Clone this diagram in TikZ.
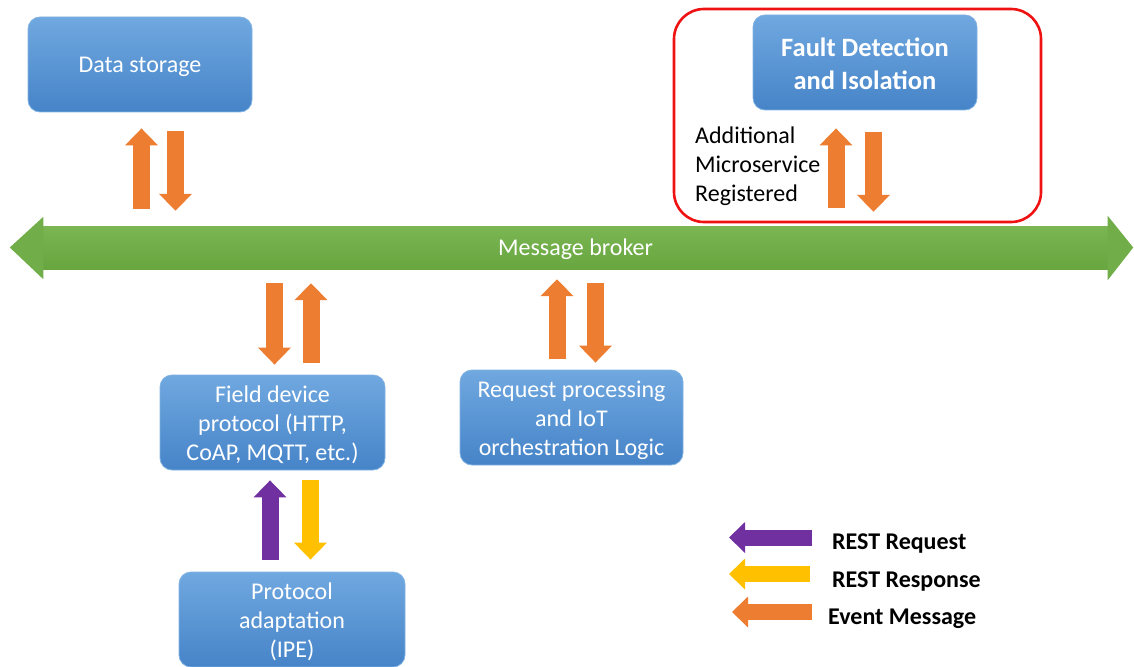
\documentclass[tikz,border=0pt]{standalone}
\usepackage{fontspec}
\setmainfont{Carlito}
\usetikzlibrary{arrows.meta,calc}

\definecolor{boxtop}{RGB}{112,168,224}
\definecolor{boxbot}{RGB}{70,132,200}
\definecolor{boxedge}{RGB}{128,178,226}
\definecolor{brokertop}{RGB}{122,182,82}
\definecolor{brokerbot}{RGB}{104,166,64}
\definecolor{evtorange}{RGB}{237,125,49}
\definecolor{reqpurple}{RGB}{112,48,160}
\definecolor{respyellow}{RGB}{255,192,0}
\definecolor{framered}{RGB}{238,18,18}

\begin{document}
\begin{tikzpicture}[x=1pt,y=-1pt,
  box/.style={rounded corners=12pt, top color=boxtop, bottom color=boxbot,
    draw=boxedge, line width=0.8pt, minimum height=95pt, inner sep=0pt},
  boxtxt/.style={text=white, align=center, inner sep=0pt, yshift=-2.5pt,
    font=\fontsize{24}{29}\selectfont},
  flow/.style={line width=17pt, -{Triangle[width=32pt,length=17pt]}},
  evt/.style={flow, draw=evtorange},
  req/.style={flow, draw=reqpurple},
  resp/.style={flow, draw=respyellow},
  legarrow/.style={line width=16pt, -{Triangle[width=30pt,length=16pt]}},
  legtxt/.style={anchor=west, inner sep=0pt, font=\fontsize{24}{29}\selectfont\bfseries}
]
\useasboundingbox (0,0) rectangle (1134,666);

% message broker bar with two heads
\node[top color=brokertop, bottom color=brokerbot, minimum width=1065pt,
  minimum height=43pt, inner sep=0pt,
  label={[boxtxt, yshift=0.5pt]center:Message broker}] (broker) at (575.5,247.5) {};
\fill[brokertop!50!brokerbot] ($(broker.north west)+(0.5,-9)$) -- ($(broker.west)+(-33,0)$)
  -- ($(broker.south west)+(0.5,10)$) -- cycle;
\fill[brokertop!50!brokerbot] ($(broker.north east)+(-0.5,-10)$) -- ($(broker.east)+(25,0)$)
  -- ($(broker.south east)+(-0.5,11)$) -- cycle;

% services
\node[box, minimum width=224pt, label={[boxtxt]center:Data storage}] (ds) at (140,64.5) {};
\node[box, minimum width=224pt,
  label={[boxtxt, yshift=1.5pt, font=\fontsize{26.5}{33}\selectfont\bfseries]center:{Fault Detection\\and Isolation}}]
  (fdi) at (865,62.5) {};
\node[box, minimum width=225pt,
  label={[boxtxt]center:{Field device\\protocol (HTTP,\\CoAP, MQTT, etc.)}}] (fd) at (272.5,422.5) {};
\node[box, minimum width=223pt,
  label={[boxtxt]center:{Request processing\\and IoT\\orchestration Logic}}] (rp) at (571.5,417.5) {};
\node[box, minimum width=226pt,
  label={[boxtxt]center:{Protocol\\adaptation\\(IPE)}}] (pa) at (292,619.5) {};

% newly registered microservice group
\node[draw=framered, line width=2.6pt, rounded corners=30pt,
  minimum width=367pt, minimum height=213pt] (grp) at (857.5,115.5) {};
\node[anchor=west, inner sep=0pt, align=left, font=\fontsize{24}{29}\selectfont]
  (addl) at (695,166) {Additional\\Microservice\\Registered};

% event messages
\draw[evt] ($(broker.north)+(-434,-17)$) -- ($(ds.south)+(1.5,16)$);
\draw[evt] ($(ds.south)+(35.5,19)$) -- ($(broker.north)+(-400,-15)$);
\draw[evt] ($(broker.north)+(260.5,-18)$) -- ($(fdi.south)+(-29,18)$);
\draw[evt] ($(fdi.south)+(8.5,22)$) -- ($(broker.north)+(298,-14)$);
\draw[evt] ($(broker.south)+(-301,14)$) -- ($(fd.north)+(2,-10)$);
\draw[evt] ($(fd.north)+(38.5,-12)$) -- ($(broker.south)+(-264.5,14)$);
\draw[evt] ($(rp.north)+(-14.5,-11)$) -- ($(broker.south)+(-18.5,10)$);
\draw[evt] ($(broker.south)+(20,14)$) -- ($(rp.north)+(24,-7)$);

% REST exchange with the adaptation layer
\draw[req] ($(pa.north)+(-22,-12)$) -- ($(fd.south)+(-2.5,10)$);
\draw[resp] ($(fd.south)+(38,10)$) -- ($(pa.north)+(18.5,-12)$);

% legend
\node[legtxt] (lreq) at (832,544) {REST Request};
\node[legtxt] (lresp) at (832,582) {REST Response};
\node[legtxt] (levt) at (828,619) {Event Message};
\draw[legarrow, draw=reqpurple] ($(lreq.west)+(-20,-6.5)$) -- ++(-83,0);
\draw[legarrow, draw=respyellow] ($(lresp.west)+(-22,-8)$) -- ++(-81,0);
\draw[legarrow, draw=evtorange] ($(levt.west)+(-16,-7)$) -- ++(-80,0);
\end{tikzpicture}
\end{document}
